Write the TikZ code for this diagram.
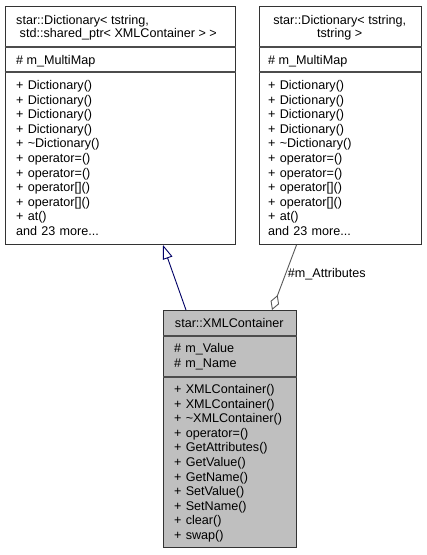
\documentclass[tikz,border=0pt]{standalone}
\usepackage{fontspec}
\setmainfont{Liberation Sans}
\usetikzlibrary{arrows.meta,calc}
\tikzset{
  umlbox/.style={draw=black!80, line width=1pt, inner sep=0pt, anchor=north west},
  divider/.style={draw=black!70, line width=1.1pt},
  txt/.style={anchor=base west, inner sep=0pt, font=\fontsize{12.6pt}{14.6pt}\selectfont},
  ctxt/.style={anchor=base, inner sep=0pt, font=\fontsize{12.6pt}{14.6pt}\selectfont},
  inherit/.style={draw=blue!40!black, line width=0.9pt, -{Triangle[open, length=14pt, width=10pt, fill=white]}},
  aggr/.style={draw=black!65, line width=0.9pt, -{Diamond[open, length=16pt, width=9pt, fill=white]}}
}
\begin{document}
\begin{tikzpicture}[x=1pt,y=-1pt]
\useasboundingbox[fill=white] (0,0) rectangle (427,555);
% boxes
\node[umlbox, minimum width=230pt, minimum height=238pt] (dictA) at (4.5,6) {};
\node[umlbox, minimum width=162.5pt, minimum height=238pt] (dictB) at (258.5,6) {};
\node[umlbox, fill=black!25, minimum width=132.5pt, minimum height=236.5pt] (xml) at (163,310) {};
% dividers
\draw[divider] (dictA.west |- 0,47) -- (dictA.east |- 0,47);
\draw[divider] (dictA.west |- 0,72) -- (dictA.east |- 0,72);
\draw[divider] (dictB.west |- 0,47) -- (dictB.east |- 0,47);
\draw[divider] (dictB.west |- 0,72) -- (dictB.east |- 0,72);
\draw[divider] (xml.west |- 0,336) -- (xml.east |- 0,336);
\draw[divider] (xml.west |- 0,377) -- (xml.east |- 0,377);
% left box text
\node[txt] (a1) at (16,24.5) {star::Dictionary< tstring,};
\node[txt] (a2) at (16,37.5) {\ std::shared\_ptr< XMLContainer > >};
\node[txt] (a3) at (16,64) {\# m\_MultiMap};
\node[txt, align=left, text width=200pt] (a4) at (16,89.5) {+ Dictionary()\\+ Dictionary()\\+ Dictionary()\\+ Dictionary()\\+ \textasciitilde Dictionary()\\+ operator=()\\+ operator=()\\+ operator[]()\\+ operator[]()\\+ at()\\and 23 more...};
% right box text
\node[ctxt] (b1) at (339.75,24.5) {star::Dictionary< tstring,};
\node[ctxt] (b2) at (339.75,37.5) {tstring >};
\node[txt] (b3) at (268,64) {\# m\_MultiMap};
\node[txt, align=left, text width=150pt] (b4) at (268,89.5) {+ Dictionary()\\+ Dictionary()\\+ Dictionary()\\+ Dictionary()\\+ \textasciitilde Dictionary()\\+ operator=()\\+ operator=()\\+ operator[]()\\+ operator[]()\\+ at()\\and 23 more...};
% xml box text
\node[ctxt] (c1) at (229.25,327.5) {star::XMLContainer};
\node[txt, align=left, text width=120pt] (c2) at (174,352.5) {\# m\_Value\\\# m\_Name};
\node[txt, align=left, text width=120pt] (c3) at (174,393.5) {+ XMLContainer()\\+ XMLContainer()\\+ \textasciitilde XMLContainer()\\+ operator=()\\+ GetAttributes()\\+ GetValue()\\+ GetName()\\+ SetValue()\\+ SetName()\\+ clear()\\+ swap()};
% connectors
\draw[inherit] ($(xml.north west)+(23,0)$) -- ($(dictA.south west)+(158.5,0)$);
\draw[aggr] ($(dictB.south west)+(38,0)$) -- ($(xml.north west)+(109,0)$)
  node[pos=0.45, right, inner sep=2pt, font=\fontsize{12.6pt}{14.6pt}\selectfont] (lbl) {\#m\_Attributes};
\end{tikzpicture}
\end{document}
